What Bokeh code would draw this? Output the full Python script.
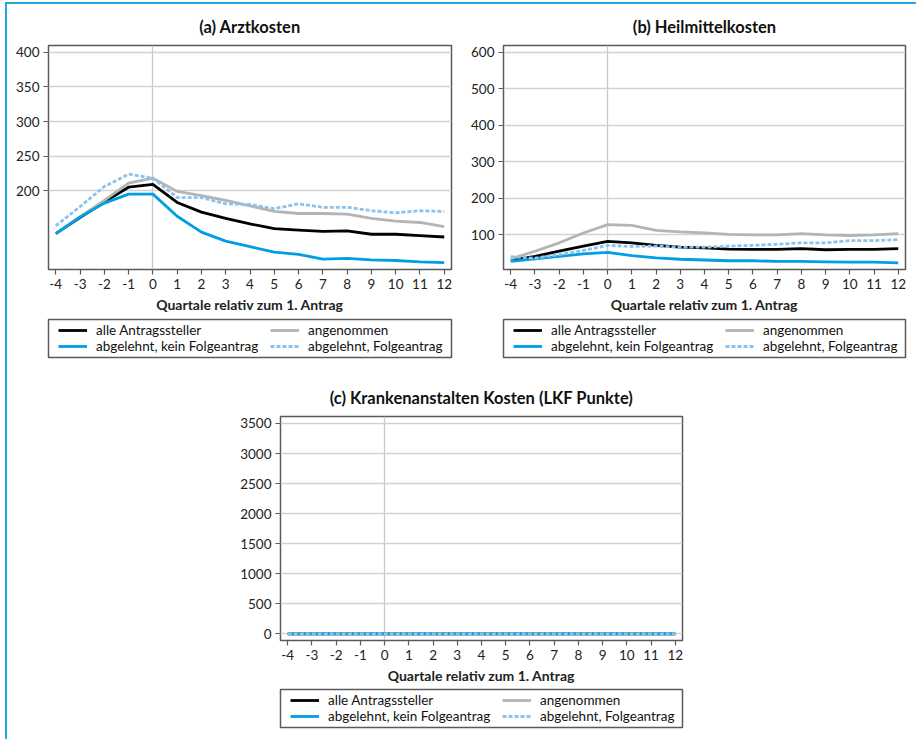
from bokeh.plotting import figure
from bokeh.models import Legend, LegendItem, FixedTicker, Range1d
from bokeh.layouts import column, row
from bokeh.embed import file_html
from bokeh.resources import INLINE

quarters = [-4, -3, -2, -1, 0, 1, 2, 3, 4, 5, 6, 7, 8, 9, 10, 11, 12]
quarter_labels = ["-4", "-3", "-2", "-1", "0", "1", "2", "3", "4", "5", "6", "7", "8", "9", "10", "11", "12"]

series_labels = ["alle Antragssteller", "angenommen",
                 "abgelehnt, kein Folgeantrag", "abgelehnt, Folgeantrag"]

# (a) Arztkosten
arzt_alle = [138, 161, 184, 205, 209, 183, 169, 160, 152, 145, 143, 141, 142, 137, 137, 135, 133]
arzt_angenommen = [138, 162, 186, 211, 218, 199, 193, 186, 178, 170, 167, 167, 166, 160, 156, 154, 148]
arzt_abgelehnt_kein = [138, 162, 182, 195, 195, 163, 140, 127, 119, 111, 108, 101, 102, 100, 99, 97, 96]
arzt_abgelehnt_folge = [149, 177, 206, 224, 218, 190, 190, 181, 180, 174, 181, 176, 176, 171, 168, 171, 170]

# (b) Heilmittelkosten
heil_alle = [30, 41, 55, 69, 82, 78, 71, 66, 64, 61, 60, 60, 62, 59, 60, 60, 62]
heil_angenommen = [34, 55, 78, 105, 128, 126, 112, 108, 105, 101, 100, 100, 103, 100, 98, 100, 103]
heil_abgelehnt_kein = [27, 34, 41, 48, 52, 43, 37, 33, 31, 29, 29, 27, 27, 26, 25, 25, 23]
heil_abgelehnt_folge = [40, 36, 46, 57, 71, 68, 69, 66, 66, 69, 71, 74, 78, 78, 84, 84, 87]

# (c) Krankenanstalten Kosten (LKF Punkte)
kh_alle = [0, 0, 0, 0, 0, 0, 0, 0, 0, 0, 0, 0, 0, 0, 0, 0, 0]
kh_angenommen = [0, 0, 0, 0, 0, 0, 0, 0, 0, 0, 0, 0, 0, 0, 0, 0, 0]
kh_abgelehnt_kein = [0, 0, 0, 0, 0, 0, 0, 0, 0, 0, 0, 0, 0, 0, 0, 0, 0]
kh_abgelehnt_folge = [0, 0, 0, 0, 0, 0, 0, 0, 0, 0, 0, 0, 0, 0, 0, 0, 0]

ticks_a = [200, 250, 300, 350, 400]
ticks_b = [100, 200, 300, 400, 500, 600]
ticks_c = [0, 500, 1000, 1500, 2000, 2500, 3000, 3500]

FONT = "Lato"
COLORS = ["#000000", "#b4b4b4", "#009fe3", "#8dc2eb"]
DASHES = ["solid", "solid", "solid", "4 2"]
BLUE_BORDER = "#1fa8e2"
FRAME_GREY = "#5a5a5a"
LW = 2.8


def panel(title, ys, y0, y1, yticks, width, height, bl, bt, fw, fh):
    p = figure(width=width, height=height, output_backend="svg", toolbar_location=None,
               x_range=Range1d(-4.3, 12.3), y_range=Range1d(y0, y1),
               min_border_left=bl, min_border_top=bt,
               min_border_right=width - bl - fw, min_border_bottom=height - bt - fh,
               frame_width=fw, frame_height=fh)
    p.title.text = title
    p.title.align = "center"
    p.title.text_font = FONT
    p.title.text_font_size = "16.5px"
    p.title.text_font_style = "bold"
    p.title.text_color = "#111111"
    p.title.standoff = 18
    p.outline_line_color = FRAME_GREY
    p.outline_line_width = 1.5
    p.background_fill_color = "white"
    p.border_fill_color = "white"

    p.xaxis.ticker = FixedTicker(ticks=quarters)
    p.xaxis.major_label_overrides = dict(zip(quarters, quarter_labels))
    p.yaxis.ticker = FixedTicker(ticks=yticks)
    p.xaxis.axis_label = "Quartale relativ zum 1. Antrag"
    for ax in (p.xaxis, p.yaxis):
        ax.axis_line_color = None
        ax.major_tick_line_color = FRAME_GREY
        ax.major_tick_line_width = 1.2
        ax.major_tick_out = 5
        ax.major_tick_in = 0
        ax.minor_tick_line_color = None
        ax.major_label_text_font = FONT
        ax.major_label_text_font_size = "13.5px"
        ax.major_label_text_color = "#222222"
        ax.major_label_standoff = 4
    p.xaxis.axis_label_text_font = FONT
    p.xaxis.axis_label_text_font_size = "14px"
    p.xaxis.axis_label_text_font_style = "bold"
    p.xaxis.axis_label_text_color = "#222222"
    p.xaxis.axis_label_standoff = 4

    p.xgrid.ticker = FixedTicker(ticks=[0])
    p.xgrid.grid_line_color = "#c8c8c8"
    p.xgrid.grid_line_width = 1.3
    p.ygrid.grid_line_color = "#d2d2d2"
    p.ygrid.grid_line_width = 1.3

    for vals, c, d in zip(ys, COLORS, DASHES):
        p.line(quarters, vals, line_color=c, line_width=LW, line_dash=d)
    return p


def legend_fig(ys, width, height, bl, bt, fw, fh):
    # a strip under each panel that only carries the legend; its frame is the legend box
    lf = figure(width=width, height=height, output_backend="svg", toolbar_location=None,
                x_axis_type=None, y_axis_type=None,
                x_range=Range1d(100, 101), y_range=Range1d(5000, 5001),
                min_border_left=bl, min_border_top=bt,
                min_border_right=width - bl - fw, min_border_bottom=height - bt - fh,
                frame_width=fw, frame_height=fh)
    lf.xgrid.visible = False
    lf.ygrid.visible = False
    lf.outline_line_color = FRAME_GREY
    lf.outline_line_width = 1.5
    lf.background_fill_color = "white"
    lf.border_fill_color = "white"
    rs = []
    for vals, c, d in zip(ys, COLORS, DASHES):
        rs.append(lf.line(quarters, vals, line_color=c, line_width=LW, line_dash=d))
    items = [LegendItem(label=lab, renderers=[r]) for lab, r in zip(series_labels, rs)]
    common = dict(label_text_font=FONT, label_text_font_size="13.5px",
                  label_text_color="#111111",
                  glyph_width=29, glyph_height=14, label_height=14,
                  label_standoff=9, spacing=0, padding=0, margin=0,
                  border_line_color=None, background_fill_alpha=0.0)
    leg1 = Legend(items=[items[0], items[2]], location=(10, 3), **common)
    leg2 = Legend(items=[items[1], items[3]], location=(222, 3), **common)
    lf.add_layout(leg1)
    lf.add_layout(leg2)
    return lf


ys_a = [arzt_alle, arzt_angenommen, arzt_abgelehnt_kein, arzt_abgelehnt_folge]
ys_b = [heil_alle, heil_angenommen, heil_abgelehnt_kein, heil_abgelehnt_folge]
ys_c = [kh_alle, kh_angenommen, kh_abgelehnt_kein, kh_abgelehnt_folge]

fa = panel("(a) Arztkosten", ys_a, 86, 410, ticks_a, 453, 312, 41, 41, 403, 224)
la = legend_fig(ys_a, 453, 54, 41, 3, 403, 38)
fb = panel("(b) Heilmittelkosten", ys_b, 5, 618, ticks_b, 456, 312, 43, 41, 402, 224)
lb = legend_fig(ys_b, 456, 54, 43, 3, 402, 38)
fc = panel("(c) Krankenanstalten Kosten (LKF Punkte)", ys_c,
           -111, 3616, ticks_c, 909, 317, 273, 46, 402, 224)
lc = legend_fig(ys_c, 909, 52, 273, 2, 402, 38)

root = column(row(column(fa, la), column(fb, lb)), column(fc, lc),
              styles={"margin-left": "5px", "margin-top": "2px",
                      "border-top": "2px solid " + BLUE_BORDER,
                      "border-left": "2px solid " + BLUE_BORDER})

open("out.html", "w").write(file_html(root, INLINE))
